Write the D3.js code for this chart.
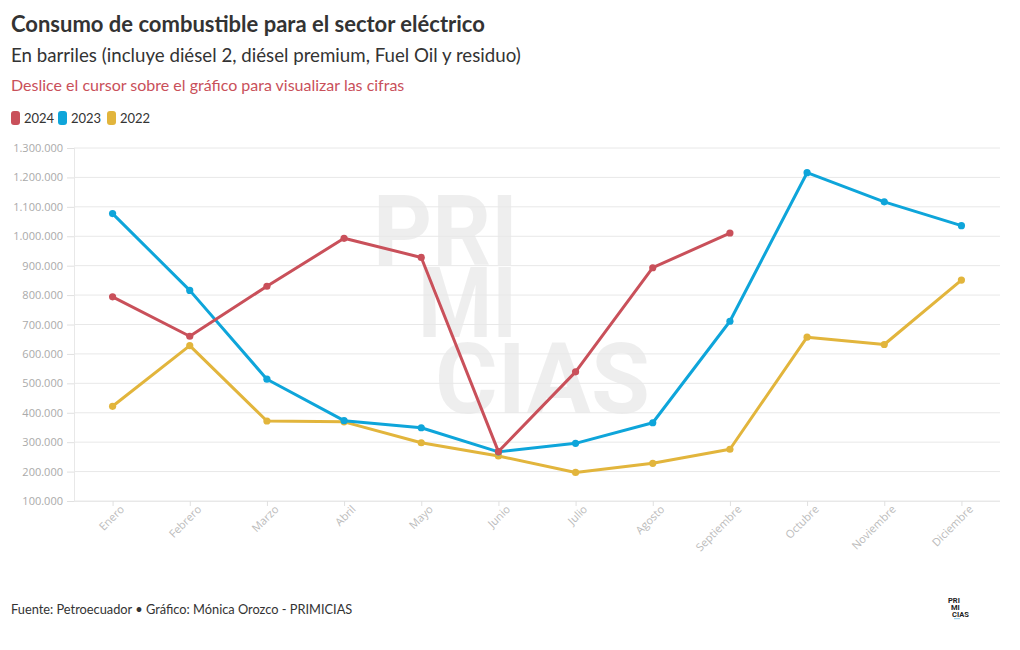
<!DOCTYPE html>
<html>
<head>
<meta charset="utf-8">
<script src="https://cdn.jsdelivr.net/npm/d3@7"></script>
<style>
  html, body { margin: 0; padding: 0; background: #fff; }
  svg { display: block; }
</style>
</head>
<body>
<svg id="chart" width="1020" height="650"></svg>
<script>
const months = ["Enero","Febrero","Marzo","Abril","Mayo","Junio","Julio","Agosto","Septiembre","Octubre","Noviembre","Diciembre"];
const v2024 = [794000, 660000, 830000, 993000, 928000, 268000, 539000, 893000, 1011000, null, null, null];
const v2023 = [1077000, 816000, 514000, 373000, 349000, 267000, 296000, 366000, 711000, 1216000, 1117000, 1036000];
const v2022 = [422000, 628000, 372000, 369000, 298000, 253000, 197000, 228000, 276000, 657000, 632000, 851000];
const seriesNames = ["2024", "2023", "2022"];
const seriesColors = ["#c9505a", "#0ea5da", "#e2b53c"];
const yTicks = [100000,200000,300000,400000,500000,600000,700000,800000,900000,1000000,1100000,1200000,1300000];

const svg = d3.select("#chart");
const pLeft = 74, pRight = 1000, pTop = 148, pBottom = 501;

const x = d3.scalePoint().domain(months).range([pLeft, pRight]).padding(0.5);
const y = d3.scaleLinear().domain([100000, 1300000]).range([pBottom, pTop]);
const fmt = v => d3.format(",")(v).replace(/,/g, ".");

// Titles
svg.append("text").attr("x", 11).attr("y", 32).text("Consumo de combustible para el sector eléctrico")
  .attr("font-family", "Lato, sans-serif").attr("font-weight", 700).attr("font-size", 22).attr("fill", "#333");
svg.append("text").attr("x", 11).attr("y", 62).text("En barriles (incluye diésel 2, diésel premium, Fuel Oil y residuo)")
  .attr("font-family", "Lato, sans-serif").attr("font-size", 18.7).attr("fill", "#333");
svg.append("text").attr("x", 11).attr("y", 91).text("Deslice el cursor sobre el gráfico para visualizar las cifras")
  .attr("font-family", "Lato, sans-serif").attr("font-size", 16).attr("fill", "#c9505a");

// Legend
const legendX = [11, 58, 107];
seriesNames.forEach((n, i) => {
  svg.append("rect").attr("x", legendX[i]).attr("y", 111).attr("width", 9).attr("height", 14).attr("rx", 3)
    .attr("fill", seriesColors[i]);
  svg.append("text").attr("x", legendX[i] + 13).attr("y", 123).text(n)
    .attr("font-family", "Lato, sans-serif").attr("font-size", 13).attr("fill", "#333");
});

// Watermark
const wm = svg.append("g").attr("fill", "#000").attr("fill-opacity", 0.065)
  .attr("font-family", "Roboto, sans-serif").attr("font-weight", 700).attr("font-size", 98);
wm.append("text").attr("x", 373).attr("y", 265).attr("textLength", 145).attr("lengthAdjust", "spacingAndGlyphs").text("PRI");
wm.append("text").attr("x", 418).attr("y", 337).attr("textLength", 99).attr("lengthAdjust", "spacingAndGlyphs").text("MI");
wm.append("text").attr("x", 435).attr("y", 413).attr("textLength", 215).attr("lengthAdjust", "spacingAndGlyphs").text("CIAS");

// Gridlines
svg.append("g").selectAll("line").data(yTicks).join("line")
  .attr("x1", pLeft).attr("x2", pRight).attr("y1", d => y(d)).attr("y2", d => y(d))
  .attr("stroke", "#e8e8e8").attr("stroke-width", 1);
svg.append("line").attr("x1", pLeft + 0.5).attr("x2", pLeft + 0.5).attr("y1", pTop).attr("y2", pBottom)
  .attr("stroke", "#e8e8e8");

// Y axis
const yAxis = svg.append("g").attr("transform", `translate(${pLeft},0)`)
  .call(d3.axisLeft(y).tickValues(yTicks).tickFormat(fmt).tickSize(7).tickPadding(4));
yAxis.select(".domain").remove();
yAxis.selectAll("line").attr("stroke", "#e0e0e0");
yAxis.selectAll("text").attr("font-family", "'Open Sans', sans-serif").attr("font-size", 11).attr("fill", "#aaa");

// X axis
const xAxis = svg.append("g").attr("transform", `translate(0,${pBottom})`)
  .call(d3.axisBottom(x).tickSize(5).tickPadding(4));
xAxis.select(".domain").attr("stroke", "#e8e8e8").attr("d", `M${pLeft},0.5H${pRight}`);
xAxis.selectAll("line").attr("stroke", "#e0e0e0");
xAxis.selectAll("text").attr("font-family", "'Open Sans', sans-serif").attr("font-size", 11).attr("fill", "#bbb")
  .attr("text-anchor", "end").attr("transform", "translate(5,2) rotate(-45)").attr("dy", "0.35em").attr("y", 6);

// Lines
const data = [v2024, v2023, v2022];
const line = d3.line().defined(d => d != null).x((d, i) => x(months[i])).y(d => y(d));
[2, 1, 0].forEach(si => {
  const vals = data[si];
  const g = svg.append("g");
  g.append("path").attr("d", line(vals)).attr("fill", "none").attr("stroke", seriesColors[si])
    .attr("stroke-width", 3).attr("stroke-linejoin", "round");
  g.selectAll("circle").data(vals.map((v, i) => ({v, i})).filter(d => d.v != null)).join("circle")
    .attr("cx", d => x(months[d.i])).attr("cy", d => y(d.v)).attr("r", 3.6).attr("fill", seriesColors[si]);
});

// Footer
svg.append("text").attr("x", 11).attr("y", 614).text("Fuente: Petroecuador • Gráfico: Mónica Orozco - PRIMICIAS")
  .attr("font-family", "Lato, sans-serif").attr("font-size", 12.8).attr("fill", "#333");
const logo = svg.append("g").attr("font-family", "Roboto, sans-serif").attr("font-weight", 700).attr("font-size", 7.5).attr("fill", "#222");
logo.append("text").attr("x", 948).attr("y", 603).text("PRI");
logo.append("text").attr("x", 951).attr("y", 610).text("MI");
logo.append("text").attr("x", 952).attr("y", 617).text("CIAS");
svg.append("rect").attr("x", 954).attr("y", 618).attr("width", 6).attr("height", 1.2).attr("fill", "#9fd3ec");
</script>
</body>
</html>
